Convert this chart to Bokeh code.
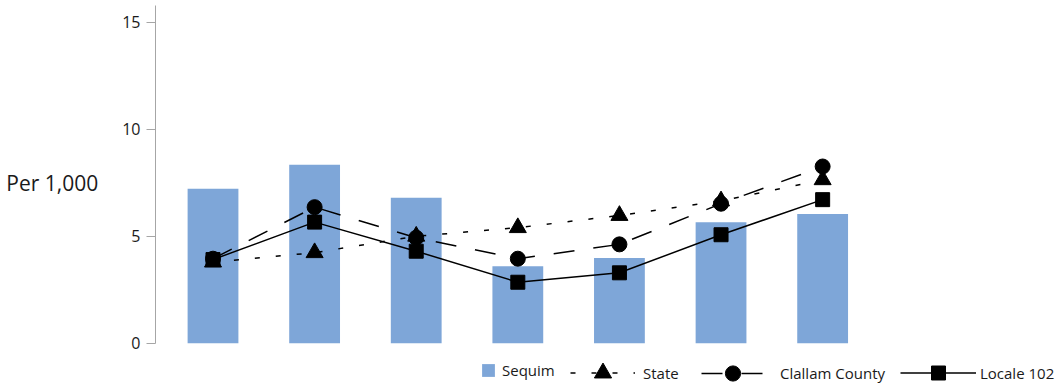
from bokeh.plotting import figure
from bokeh.models import Range1d, FixedTicker, Legend, LegendItem
from bokeh.embed import file_html
from bokeh.resources import INLINE

# ---- data ----
sequim = [7.22, 8.34, 6.80, 3.60, 3.98, 5.65, 6.04]
state = [3.79, 4.23, 5.00, 5.40, 5.97, 6.65, 7.64]
clallam = [3.95, 6.36, 4.93, 3.95, 4.62, 6.52, 8.26]
locale = [3.91, 5.66, 4.30, 2.85, 3.29, 5.07, 6.71]
y_ticks = [0, 5, 10, 15]
series_names = ["Sequim", "State", "Clallam County", "Locale 102"]
y_label = "Per 1,000"

xs = list(range(len(sequim)))

FONT = "Open Sans"
BAR = "#7EA6D8"

p = figure(width=1060, height=388, output_backend="svg", toolbar_location=None,
           x_range=Range1d(-0.566, 8.341), y_range=Range1d(-2.118, 16.02),
           x_axis_location=None, min_border_left=155, min_border_right=0,
           min_border_top=0, min_border_bottom=0)
p.grid.visible = False
p.outline_line_color = None
p.background_fill_color = "white"

ax = p.yaxis[0]
ax.bounds = (0, 15.8)
ax.ticker = FixedTicker(ticks=y_ticks)
ax.axis_line_color = "#A6A6A6"
ax.major_tick_line_color = "#A6A6A6"
ax.minor_tick_line_color = None
ax.major_tick_in = 0
ax.major_tick_out = 9
ax.major_label_standoff = 6
ax.major_label_text_font = FONT
ax.major_label_text_font_size = "16px"
ax.major_label_text_color = "#1a1a1a"
# trailing empty line lifts the single visible line a little above the frame centre
ax.axis_label = y_label + "\n"
ax.axis_label_orientation = "horizontal"
ax.axis_label_standoff = 21
ax.axis_label_text_font = FONT
ax.axis_label_text_font_size = "21px"
ax.axis_label_text_line_height = 0.85
ax.axis_label_text_font_style = "normal"
ax.axis_label_text_color = "#1a1a1a"

bars = p.vbar(x=xs, top=sequim, width=0.5, fill_color=BAR, line_color=None)

l_state = p.line(xs, state, line_color="black", line_width=1.5, line_dash="5 16")
l_clal = p.line(xs, clallam, line_color="black", line_width=1.5, line_dash="21 19")
l_loc = p.line(xs, locale, line_color="black", line_width=1.5)

m_state = p.scatter(xs, state, marker="triangle", size=17, fill_color="black", line_color="black")
m_clal = p.scatter(xs, clallam, marker="circle", size=15, fill_color="black", line_color="black")
m_loc = p.scatter(xs, locale, marker="square", size=14, fill_color="black", line_color="black")

def add_legend(label, renderers, x, gw, gh, standoff):
    center = 15.5  # px above the frame bottom
    lg = Legend(items=[LegendItem(label=label, renderers=renderers)],
                location=(x, int(round(center - gh / 2))), orientation="horizontal",
                glyph_width=gw, glyph_height=gh, label_standoff=standoff,
                label_text_font=FONT, label_text_font_size="15px",
                label_text_color="#1a1a1a", label_height=gh,
                padding=0, margin=0, spacing=0,
                border_line_color=None, background_fill_alpha=0)
    p.add_layout(lg, "center")

add_legend(series_names[0], [bars], 480 - 155, 16, 16, 6)
add_legend(series_names[1], [l_state, m_state], 570 - 155, 65, 43, 8)
add_legend(series_names[2], [l_clal, m_clal], 701 - 155, 63, 38, 16)
add_legend(series_names[3], [l_loc, m_loc], 900 - 155, 76, 35, 4)

open("out.html", "w").write(file_html(p, INLINE))
